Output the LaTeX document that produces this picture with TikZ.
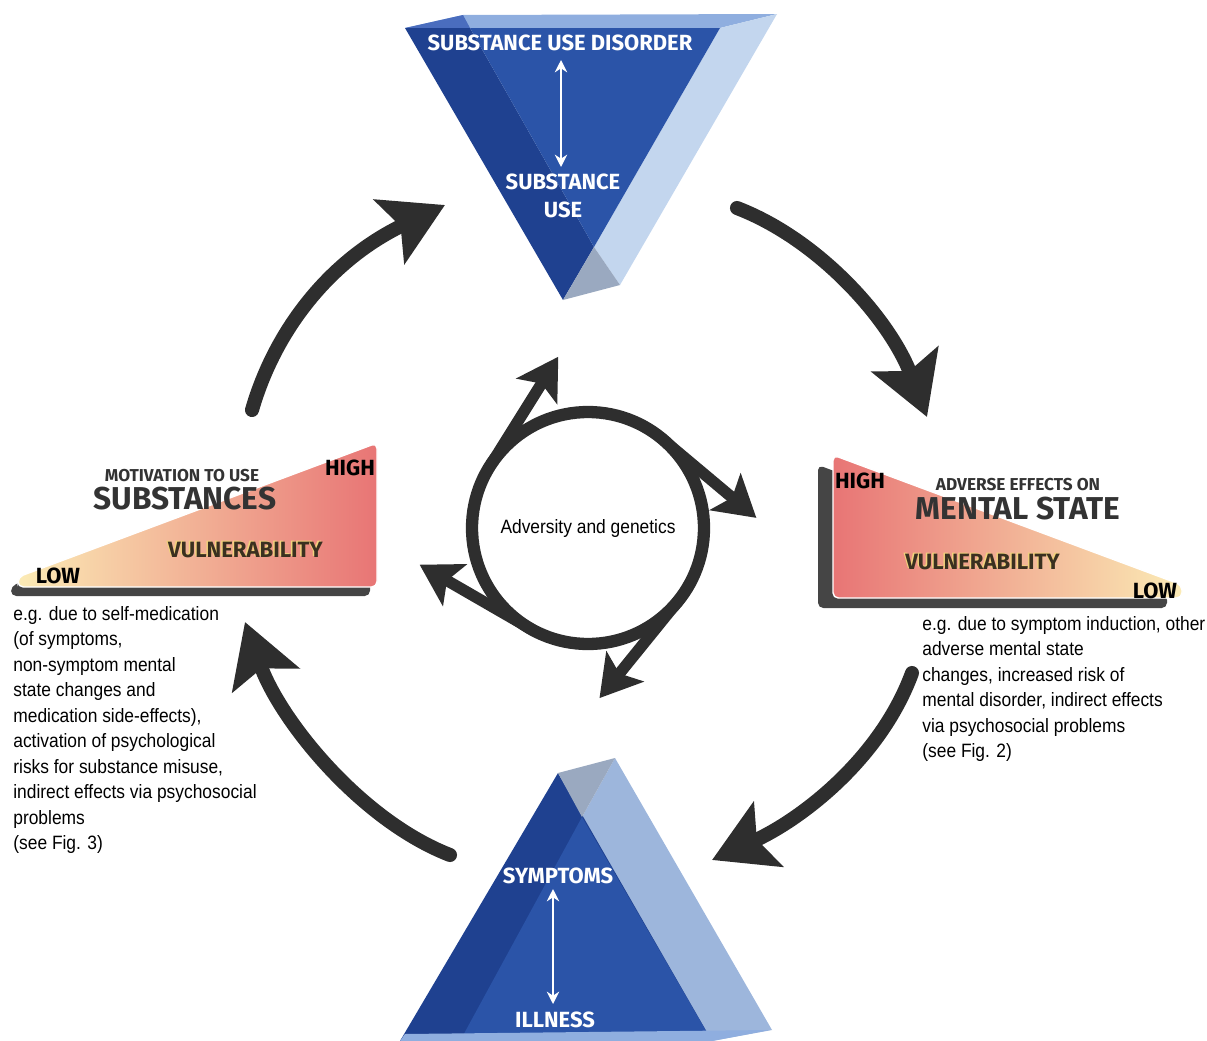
\documentclass[tikz,border=0pt]{standalone}
\usepackage{fontspec}
\setmainfont{Liberation Sans}
\newfontfamily\headfont{Fira Sans}
\newfontfamily\condfont[FakeStretch=0.9]{Liberation Sans}
\usepackage{xcolor}
\usepackage{tikz}
\usetikzlibrary{positioning, calc, arrows.meta, shapes.geometric}

\definecolor{frontdark}{HTML}{1F4190}
\definecolor{frontblue}{HTML}{2B54A8}
\definecolor{rimblue}{HTML}{8FAEDF}
\definecolor{rimdark}{HTML}{4A6DBE}
\definecolor{sideblue}{HTML}{C3D6EE}
\definecolor{sideblue2}{HTML}{9DB6DC}
\definecolor{edgegray}{HTML}{9AA9C0}
\definecolor{arrowgray}{HTML}{2E2E2E}
\definecolor{lowyellow}{HTML}{FBEBB5}
\definecolor{highred}{HTML}{E87575}
\definecolor{shadowgray}{HTML}{454545}
\definecolor{vulgold}{HTML}{F2D27C}
\definecolor{vuldark}{HTML}{3A3020}
\definecolor{headgray}{HTML}{333333}

\tikzset{
  bigarrow/.style={draw=arrowgray, line width=8pt, line cap=round,
    -{Stealth[length=35pt, width=40pt, inset=7pt]}},
  smallarrow/.style={draw=arrowgray, line width=6.5pt,
    -{Stealth[length=23pt, width=27pt, inset=5pt]}},
  prismlabel/.style={text=white, inner sep=0pt,
    font=\headfont\bfseries\fontsize{12.5}{15.5}\selectfont, align=center},
  whitearrow/.style={draw=white, line width=1.4pt,
    {Stealth[length=7pt, width=7pt]}-{Stealth[length=7pt, width=7pt]}},
  smallhead/.style={text=headgray, inner sep=0pt,
    font=\headfont\bfseries\fontsize{9.8}{11}\selectfont},
  bighead/.style={text=headgray, inner sep=0pt,
    font=\headfont\bfseries\fontsize{18}{19}\selectfont},
  levellabel/.style={text=black, inner sep=0pt,
    font=\headfont\bfseries\fontsize{12.5}{14}\selectfont},
  vullabel/.style={inner sep=0pt,
    font=\headfont\bfseries\fontsize{12.6}{14}\selectfont},
  notetext/.style={inner sep=0pt, anchor=north west, align=left,
    font=\condfont\fontsize{11}{14.5}\selectfont}
}

\begin{document}
\begin{tikzpicture}[x=0.02cm, y=-0.02cm]
\useasboundingbox (0,0) rectangle (1207,1041);

% top prism
\fill[rimblue] (405,28) -- (463,15) -- (777,14) -- (720,28) -- cycle;
\fill[rimdark] (405,28) -- (463,15) -- (470,28) -- cycle;
\fill[sideblue] (720,28) -- (777,14) -- (620,285) -- (594,247) -- cycle;
\fill[frontdark] (405,28) -- (470,28) -- (594,247) -- (563,300) -- cycle;
\fill[frontblue] (470,28) -- (720,28) -- (594,247) -- cycle;
\fill[edgegray] (594,247) -- (620,285) -- (563,300) -- cycle;

\node[prismlabel] (sud) at (560,43) {SUBSTANCE USE DISORDER};
\node[prismlabel] (su) at (563,196) {SUBSTANCE\\USE};
\coordinate (sudarr) at (561,60);
\coordinate (suarr) at (561,167);
\draw[whitearrow] (sudarr) -- (suarr);

% bottom prism
\fill[sideblue2] (615,758) -- (772,1030) -- (712,1041) -- (582,817) -- cycle;
\fill[frontdark] (558,773) -- (400,1041) -- (712,1041) -- cycle;
\fill[frontblue] (582,817) -- (460,1041) -- (712,1041) -- cycle;
\fill[edgegray] (558,773) -- (615,758) -- (582,817) -- cycle;
\fill[rimblue] (405,1034) -- (770,1030) -- (712,1041) -- (400,1041) -- cycle;

\node[prismlabel] (sym) at (558,876) {SYMPTOMS};
\node[prismlabel] (ill) at (555,1020) {ILLNESS};
\coordinate (symarr) at (553,889);
\coordinate (illarr) at (553,1004);
\draw[whitearrow] (symarr) -- (illarr);

% left wedge
\fill[shadowgray, rounded corners=3pt] (11,596) -- (11,586) -- (370,452) -- (370,596) -- cycle;
\shade[left color=lowyellow, right color=highred, rounded corners=3pt, draw=white, line width=0.8pt]
  (18,587) -- (18,577) -- (377,443) -- (377,587) -- cycle;
\node[smallhead] (motiv) at (182,476) {MOTIVATION TO USE};
\node[bighead] (subst) at (185,499) {SUBSTANCES};
\node[levellabel] (high1) at (350,468) {HIGH};
\node[levellabel] (low1) at (58,576) {LOW};
\node[vullabel, text=vulgold] (vul1a) at (244,549) {VULNERABILITY};
\node[vullabel, text=vuldark] (vul1b) at (245.5,550.5) {VULNERABILITY};

% right wedge
\fill[shadowgray, rounded corners=3pt] (818,608) -- (818,465) -- (1167,595) -- (1167,608) -- cycle;
\shade[left color=highred, right color=lowyellow, rounded corners=3pt, draw=white, line width=0.8pt]
  (833,598) -- (833,455) -- (1182,585) -- (1182,598) -- cycle;
\node[levellabel] (high2) at (860,481) {HIGH};
\node[smallhead] (adv) at (1018,485) {ADVERSE EFFECTS ON};
\node[bighead] (mental) at (1018,509) {MENTAL STATE};
\node[vullabel, text=vulgold] (vul2a) at (981,561) {VULNERABILITY};
\node[vullabel, text=vuldark] (vul2b) at (982.5,562.5) {VULNERABILITY};
\node[levellabel] (low2) at (1155,591) {LOW};

% notes
\node[notetext] (noteleft) at (13,606) {e.g. due to self-medication\\(of symptoms,\\non-symptom mental\\state changes and\\medication side-effects),\\activation of psychological\\risks for substance misuse,\\indirect effects via psychosocial\\problems\\(see Fig. 3)};
\node[notetext] (noteright) at (922,616) {e.g. due to symptom induction, other\\adverse mental state\\changes, increased risk of\\mental disorder, indirect effects\\via psychosocial problems\\(see Fig. 2)};

% centre
\node[circle, draw=arrowgray, line width=7pt, minimum size=4.64cm, outer sep=0pt,
  font=\condfont\fontsize{11}{12}\selectfont] (gen) at (588,528) {Adversity and genetics};
\coordinate (g1) at ($(gen.147)+(58:2.55cm)$);
\coordinate (g2) at ($(gen.50)+(-40:2.45cm)$);
\coordinate (g3) at ($(gen.240)+(150:2.55cm)$);
\coordinate (g4) at ($(gen.-39)+(-129:2.5cm)$);
\draw[smallarrow] (gen.147) -- (g1);
\draw[smallarrow] (gen.50) -- (g2);
\draw[smallarrow] (gen.240) -- (g3);
\draw[smallarrow] (gen.-39) -- (g4);

% outer cycle
\coordinate (a1s) at (252,410);
\coordinate (a1e) at (445,205);
\coordinate (a2s) at (737,208);
\coordinate (a2e) at (927,417);
\coordinate (a3s) at (912,673);
\coordinate (a3e) at (712,860);
\coordinate (a4s) at (450,855);
\coordinate (a4e) at (245,622);
\draw[bigarrow] (a1s) .. controls (275,330) and (330,260) .. (a1e);
\draw[bigarrow] (a2s) .. controls (820,240) and (890,320) .. (a2e);
\draw[bigarrow] (a3s) .. controls (880,760) and (800,820) .. (a3e);
\draw[bigarrow] (a4s) .. controls (360,820) and (280,720) .. (a4e);
\end{tikzpicture}
\end{document}
